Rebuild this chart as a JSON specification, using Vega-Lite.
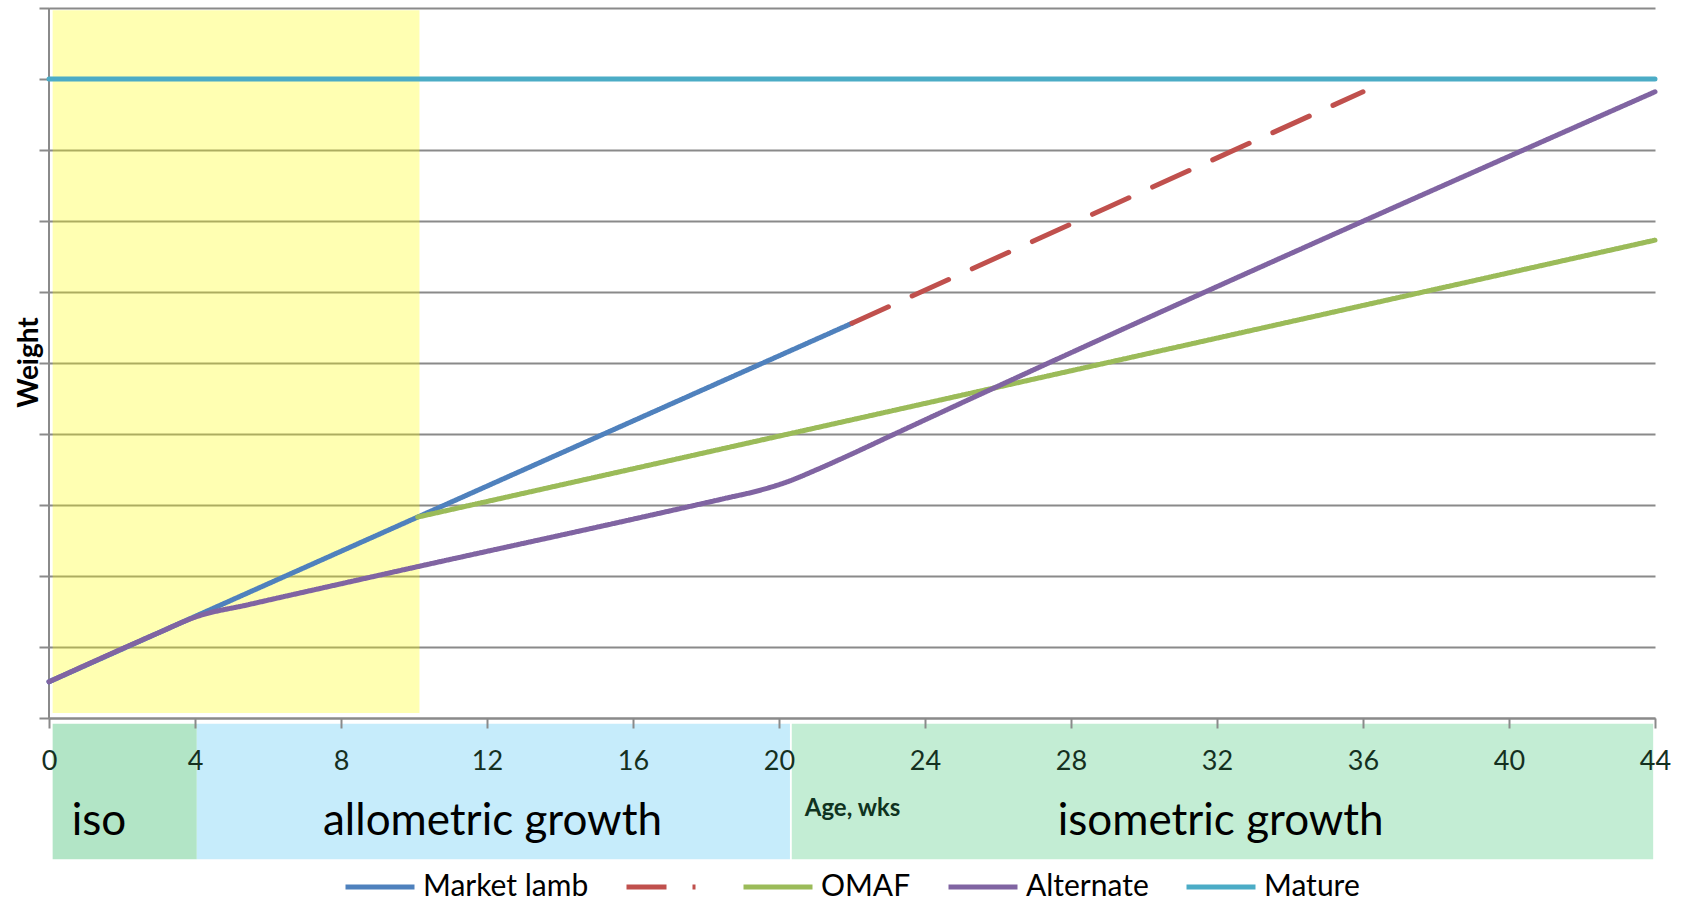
{
  "$schema": "https://vega.github.io/schema/vega-lite/v6.json",
  "width": 1606,
  "height": 852,
  "autosize": {"type": "none"},
  "padding": {"left": 49, "top": 8, "right": 29, "bottom": 41},
  "background": "white",
  "config": {"view": {"stroke": null}, "font": "Lato"},
  "encoding": {
    "x": {
      "field": "week", "type": "quantitative",
      "scale": {"domain": [0, 44], "nice": false, "zero": false},
      "axis": {
        "title": "Age, wks", "values": [0, 4, 8, 12, 16, 20, 24, 28, 32, 36, 40, 44],
        "offset": -142, "zindex": 1, "grid": false,
        "domainColor": "#8a8a8a", "domainWidth": 2,
        "tickColor": "#8a8a8a", "tickWidth": 2, "tickSize": 10,
        "labelFont": "Lato", "labelFontSize": 27, "labelColor": "#15301f", "labelPadding": 20,
        "labelFlush": false, "labelOverlap": false,
        "titleFont": "Lato", "titleFontSize": 24, "titleFontWeight": "bold", "titleColor": "#0f3320",
        "titleX": 803, "titleY": 97, "titleAlign": "center", "titleBaseline": "alphabetic"
      }
    },
    "y": {
      "field": "weight", "type": "quantitative",
      "scale": {"domain": [-20, 100], "nice": false, "zero": false},
      "axis": {
        "title": "Weight", "values": [0, 10, 20, 30, 40, 50, 60, 70, 80, 90, 100],
        "domain": false, "labels": false,
        "tickSize": 10, "tickColor": "#8a8a8a", "tickWidth": 2,
        "grid": true, "gridColor": "#8a8a8a", "gridWidth": 2,
        "titleFont": "Lato", "titleFontSize": 28, "titleFontWeight": "bold", "titleColor": "black",
        "titleAngle": -90, "titleX": -12, "titleY": 354, "titleAlign": "center", "titleBaseline": "alphabetic"
      }
    }
  },
  "layer": [
    {
      "data": {"values": [{"week": 0.1, "week2": 10.15, "weight": 0.7, "weight2": 99.7}]},
      "mark": {"type": "rect", "color": "#FFFF00", "opacity": 0.3},
      "encoding": {"x2": {"field": "week2"}, "y2": {"field": "weight2"}}
    },
    {
      "data": {"values": [
        {"zone": "iso", "week": 0.1, "week2": 4.05, "weight": -0.8, "weight2": -19.9},
        {"zone": "allometric", "week": 4.05, "week2": 20.3, "weight": -0.8, "weight2": -19.9},
        {"zone": "isometric", "week": 20.35, "week2": 43.95, "weight": -0.8, "weight2": -19.9}
      ]},
      "mark": {"type": "rect"},
      "encoding": {
        "x2": {"field": "week2"}, "y2": {"field": "weight2"},
        "fill": {"field": "zone", "type": "nominal",
          "scale": {"domain": ["iso", "allometric", "isometric"], "range": ["#B2E5C6", "#C6ECFB", "#C3EDD4"]},
          "legend": null}
      }
    },
    {
      "data": {"values": [{"week": 0, "weight": 0, "weight2": 100}]},
      "mark": {"type": "rule", "color": "#8a8a8a", "strokeWidth": 2},
      "encoding": {"y2": {"field": "weight2"}}
    },
    {
      "data": {"values": [
        {"series": "Market lamb", "week": 0, "weight": 5.1},
        {"series": "Market lamb", "week": 4, "weight": 14.3},
        {"series": "Market lamb", "week": 10.1, "weight": 28.3},
        {"series": "Market lamb", "week": 22, "weight": 55.6},
        {"series": " ", "week": 22, "weight": 55.6},
        {"series": " ", "week": 29, "weight": 71.9},
        {"series": " ", "week": 36, "weight": 88.2},
        {"series": "OMAF", "week": 10.1, "weight": 28.3},
        {"series": "OMAF", "week": 20, "weight": 39.7},
        {"series": "OMAF", "week": 30, "weight": 51.2},
        {"series": "OMAF", "week": 44, "weight": 67.3},
        {"series": "Alternate", "week": 0, "weight": 5.1},
        {"series": "Alternate", "week": 3, "weight": 12.0},
        {"series": "Alternate", "week": 4, "weight": 14.2},
        {"series": "Alternate", "week": 5.5, "weight": 16.0},
        {"series": "Alternate", "week": 8, "weight": 18.9},
        {"series": "Alternate", "week": 10, "weight": 21.2},
        {"series": "Alternate", "week": 16, "weight": 28.0},
        {"series": "Alternate", "week": 18.5, "weight": 30.9},
        {"series": "Alternate", "week": 19.5, "weight": 32.1},
        {"series": "Alternate", "week": 20.3, "weight": 33.4},
        {"series": "Alternate", "week": 21, "weight": 34.9},
        {"series": "Alternate", "week": 22, "weight": 37.2},
        {"series": "Alternate", "week": 23, "weight": 39.6},
        {"series": "Alternate", "week": 44, "weight": 88.2},
        {"series": "Mature", "week": 0, "weight": 90},
        {"series": "Mature", "week": 44, "weight": 90}
      ]},
      "mark": {"type": "line", "strokeWidth": 5, "strokeCap": "round", "interpolate": "monotone"},
      "encoding": {
        "color": {
          "field": "series", "type": "nominal",
          "scale": {"domain": ["Market lamb", " ", "OMAF", "Alternate", "Mature"],
                    "range": ["#4F81BD", "#C0504D", "#9BBB59", "#8064A2", "#4BACC6"]},
          "legend": {
            "title": null, "orient": "none", "legendX": 294, "legendY": 842, "direction": "horizontal",
            "padding": 0,
            "symbolType": "stroke", "symbolSize": 4761, "symbolStrokeWidth": 5,
            "labelFont": "Lato", "labelFontSize": 30, "labelColor": "black", "labelOffset": 6,
            "labelLimit": 400, "columnPadding": 27
          }
        },
        "strokeDash": {
          "field": "series", "type": "nominal",
          "scale": {"domain": ["Market lamb", " ", "OMAF", "Alternate", "Mature"],
                    "range": [[1, 0], [40, 26], [1, 0], [1, 0], [1, 0]]},
          "legend": {
            "title": null, "orient": "none", "legendX": 294, "legendY": 842, "direction": "horizontal",
            "padding": 0,
            "symbolType": "stroke", "symbolSize": 4761, "symbolStrokeWidth": 5,
            "labelFont": "Lato", "labelFontSize": 30, "labelColor": "black", "labelOffset": 6,
            "labelLimit": 400, "columnPadding": 27
          }
        }
      }
    },
    {
      "data": {"values": [
        {"label": "iso", "week": 1.37, "weight": -16.5},
        {"label": "allometric growth", "week": 12.15, "weight": -16.5},
        {"label": "isometric growth", "week": 32.1, "weight": -16.5}
      ]},
      "mark": {"type": "text", "font": "Lato", "fontSize": 44, "color": "black", "align": "center", "baseline": "alphabetic"},
      "encoding": {"text": {"field": "label"}}
    }
  ]
}
